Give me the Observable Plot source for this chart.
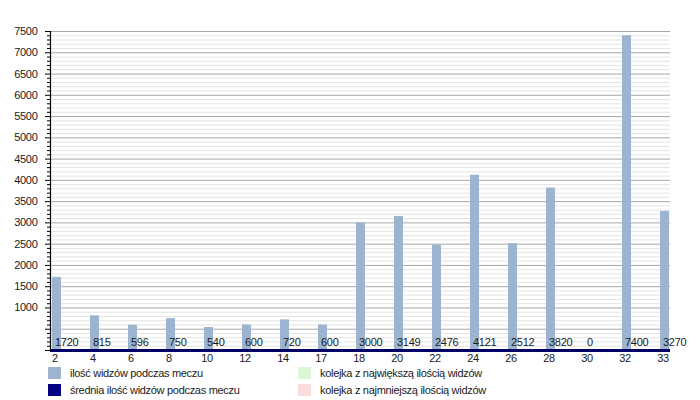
<!DOCTYPE html>
<html>
<head>
<meta charset="utf-8">
<script src="https://cdn.jsdelivr.net/npm/d3@7"></script>
<script src="https://cdn.jsdelivr.net/npm/@observablehq/plot@0.6"></script>
<style>
  body { margin: 0; background: #fff; font-family: "Liberation Sans", Arial, sans-serif; }
  #wrap { position: relative; width: 700px; height: 400px; }
  #chart svg { display: block; }
  .lg { position: absolute; font-size: 11px; color: #1a1a1a; letter-spacing: -0.3px; line-height: 13px; white-space: nowrap; }
  .sw { position: absolute; width: 13px; height: 12px; }
</style>
</head>
<body>
<div id="wrap">
  <div id="chart"></div>
  <div id="legend"></div>
</div>
<script>
// Data
const rounds = ["2","4","6","8","10","12","14","17","18","20","22","24","26","28","30","32","33"];
const viewers = [1720, 815, 596, 750, 540, 600, 720, 600, 3000, 3149, 2476, 4121, 2512, 3820, 0, 7400, 3270];
const legendItems = [
  {label: "ilość widzów podczas meczu", color: "#9cb4cf", col: 0, row: 0},
  {label: "średnia ilość widzów podczas meczu", color: "#000080", col: 0, row: 1},
  {label: "kolejka z największą ilością widzów", color: "#ddf7d6", col: 1, row: 0},
  {label: "kolejka z najmniejszą ilością widzów", color: "#fbdcdc", col: 1, row: 1}
];

const data = rounds.map((r, i) => ({round: r, value: viewers[i]}));
const minor = d3.range(0, 7501, 100).filter(v => v % 500 !== 0);
const major = d3.range(0, 7501, 500);

const chart = Plot.plot({
  width: 700,
  height: 364,
  marginLeft: 50,
  marginRight: 30,
  marginTop: 31,
  marginBottom: 14,
  style: {fontFamily: "Liberation Sans, Arial, sans-serif", fontSize: "11px", color: "#1a1a1a", letterSpacing: "-0.3px"},
  x: {type: "band", domain: rounds, paddingInner: 0.764, paddingOuter: 0.02, label: null},
  y: {domain: [0, 7500], label: null},
  marks: [
    Plot.ruleY(minor, {stroke: "#e4e4e4", strokeWidth: 1}),
    Plot.ruleY(major, {stroke: "#a8a8a8", strokeWidth: 1}),
    Plot.barY(data, {x: "round", y: "value", fill: "#9cb4cf"}),
    Plot.text(data, {x: "round", y: 0, text: d => String(d.value), textAnchor: "start", dx: -2, dy: -8, fill: "#1a1a1a", fontSize: 11}),
    Plot.ruleY([0], {stroke: "#000066", strokeWidth: 3}),
    Plot.axisY({ticks: minor, tickSize: 3, tickFormat: () => "", stroke: "#000"}),
    Plot.axisY({ticks: major, tickSize: 5, tickPadding: 8, tickFormat: d => d >= 1000 ? String(d) : "", stroke: "#000"}),
    Plot.frame({anchor: "left", stroke: "#000", strokeWidth: 1.2}),
    Plot.axisX({tickSize: 0, tickPadding: 4, dx: -2, label: null})
  ]
});
document.getElementById("chart").appendChild(chart);

const lg = document.getElementById("legend");
legendItems.forEach(it => {
  const sx = it.col === 0 ? 48 : 298;
  const tx = it.col === 0 ? 70 : 320;
  const sy = 367 + it.row * 17;
  const sw = document.createElement("div");
  sw.className = "sw";
  sw.style.left = sx + "px"; sw.style.top = sy + "px"; sw.style.background = it.color;
  const t = document.createElement("div");
  t.className = "lg";
  t.style.left = tx + "px"; t.style.top = sy + "px";
  t.textContent = it.label;
  lg.appendChild(sw); lg.appendChild(t);
});
</script>
</body>
</html>
